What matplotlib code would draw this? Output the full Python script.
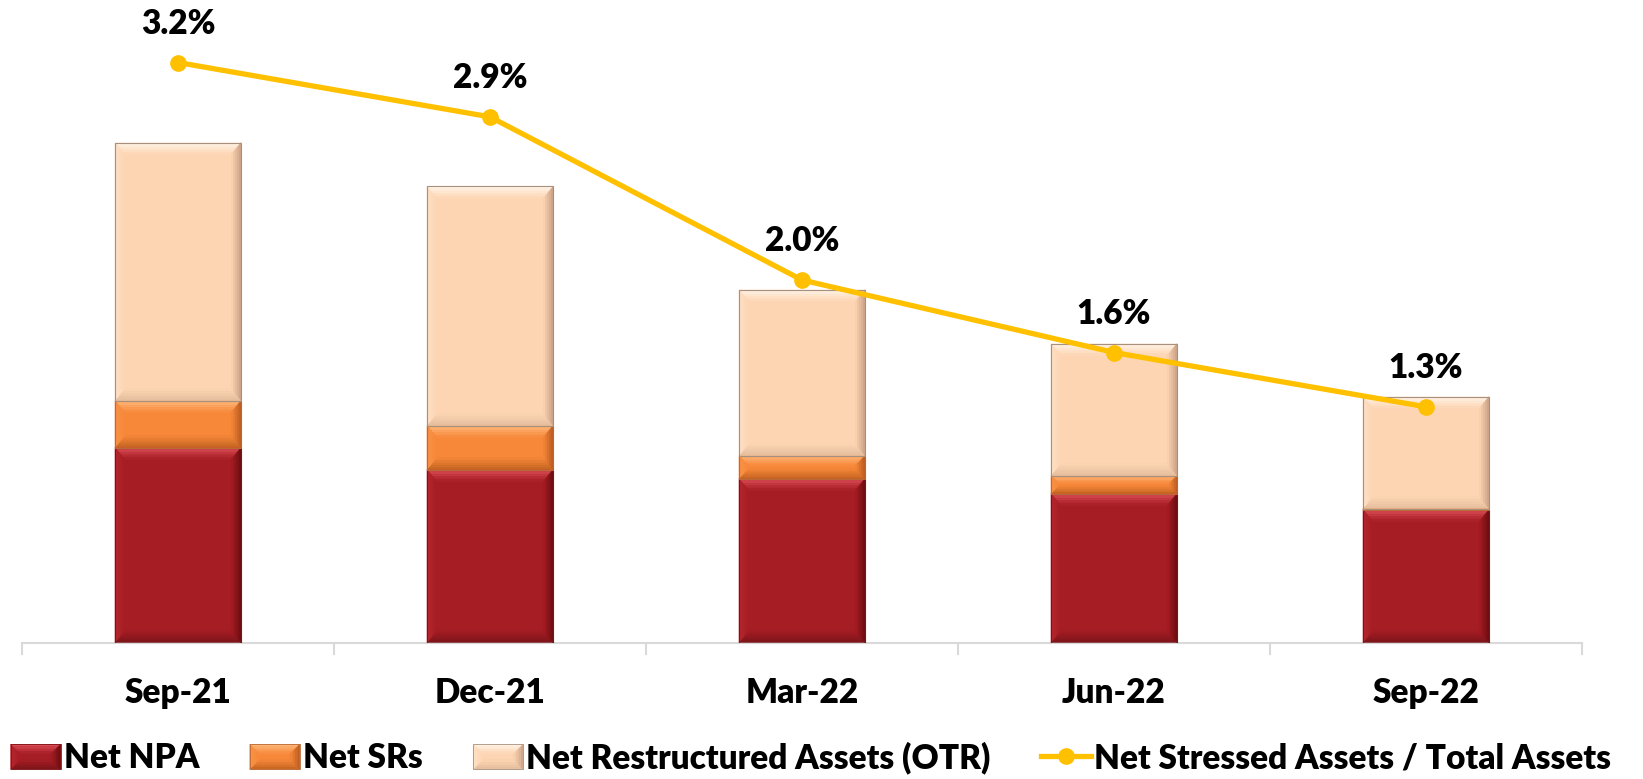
import numpy as np
import matplotlib
matplotlib.use("Agg")
import matplotlib.pyplot as plt
from matplotlib.patches import Polygon, Rectangle
from matplotlib.lines import Line2D
from matplotlib.legend_handler import HandlerBase
from matplotlib.colors import to_rgb

plt.rcParams['font.family'] = ['Lato', 'DejaVu Sans']
plt.rcParams['font.weight'] = 800

# quarterly data
quarters = ["Sep-21", "Dec-21", "Mar-22", "Jun-22", "Sep-22"]
net_npa = [1.95, 1.73, 1.64, 1.49, 1.33]
net_srs = [0.47, 0.44, 0.23, 0.18, 0.01]
net_otr = [2.58, 2.39, 1.66, 1.32, 1.12]
stressed_pct = [3.2, 2.9, 2.0, 1.6, 1.3]

series_names = ["Net NPA", "Net SRs", "Net Restructured Assets (OTR)"]
line_name = "Net Stressed Assets / Total Assets"

# bevel colours per series: face, edges of the bevel, outline
styles = [
    dict(face="#A61D24", top="#E0505A", left="#B8262D", right="#6A0D10",
         bottom="#7A1419", edge="#7A1419"),
    dict(face="#F7883A", top="#FEBC80", left="#F99448", right="#B95A1F",
         bottom="#C2631F", edge="#B86A35"),
    dict(face="#FDD5B3", top="#FFF6EA", left="#FEE1C8", right="#C9A085",
         bottom="#E2BC9C", edge="#A8907F"),
]
line_color = "#FFC000"
FS = 24
WEIGHT = 800


def bevel_patches(x0, y0, w, h, bx, by, style, transform, steps=5):
    main = np.array(to_rgb(style['face']))
    out = []
    for i in range(steps):
        a, b = i / steps, (i + 1) / steps
        mix = (i + 0.5) / steps
        o = (x0 + a * bx, y0 + a * by, x0 + w - a * bx, y0 + h - a * by)
        n = (x0 + b * bx, y0 + b * by, x0 + w - b * bx, y0 + h - b * by)
        sides = {
            'top': [(o[0], o[3]), (o[2], o[3]), (n[2], n[3]), (n[0], n[3])],
            'bottom': [(o[0], o[1]), (o[2], o[1]), (n[2], n[1]), (n[0], n[1])],
            'left': [(o[0], o[1]), (o[0], o[3]), (n[0], n[3]), (n[0], n[1])],
            'right': [(o[2], o[1]), (o[2], o[3]), (n[2], n[3]), (n[2], n[1])],
        }
        for side, pts in sides.items():
            edge = np.array(to_rgb(style[side]))
            col = edge + (main - edge) * mix
            out.append(Polygon(pts, closed=True, facecolor=col, edgecolor=col,
                               lw=0.3, transform=transform))
    return out


class BevelHandler(HandlerBase):
    def __init__(self, style):
        super().__init__()
        self.style = style

    def create_artists(self, legend, orig_handle, xdescent, ydescent,
                       width, height, fontsize, trans):
        x0, y0 = -xdescent, -ydescent
        arts = [Rectangle((x0, y0), width, height, facecolor=self.style['face'],
                          edgecolor='none', transform=trans)]
        arts += bevel_patches(x0, y0, width, height, 7, 7, self.style, trans, steps=4)
        arts.append(Rectangle((x0, y0), width, height, facecolor='none',
                              edgecolor=self.style['edge'], lw=0.6, transform=trans))
        return arts


fig = plt.figure(figsize=(16.43, 7.79), dpi=100)
W, H = 1643, 779
base_px, top_px = 642.5, 20
ax = fig.add_axes([22 / W, (H - base_px) / H, 1560 / W, (base_px - top_px) / H])
ax.set_xlim(-0.5, 4.5)
ax.set_ylim(0, (base_px - top_px) / 100)

x = np.arange(len(quarters))
bar_w = 0.404
bottoms = np.zeros(len(quarters))
sx = 1560 / 5
sy = 100.0
for vals, st in zip([net_npa, net_srs, net_otr], styles):
    vals = np.array(vals)
    ax.bar(x, vals, bar_w, bottom=bottoms, color=st['face'], edgecolor='none', zorder=2)
    for xi, b, v in zip(x, bottoms, vals):
        h_px = v * sy
        by_px = min(12.0, 0.45 * h_px)
        bx_px = min(10.0, max(by_px, 4.0)) if h_px > 3 else 0.5
        for p in bevel_patches(xi - bar_w / 2, b, bar_w, v, bx_px / sx, by_px / sy,
                               st, ax.transData):
            p.set_zorder(3)
            ax.add_patch(p)
        ax.add_patch(Rectangle((xi - bar_w / 2, b), bar_w, v, facecolor='none',
                               edgecolor=st['edge'], lw=0.8, zorder=4))
    bottoms = bottoms + vals

# axis styling
for s in ['top', 'right', 'left']:
    ax.spines[s].set_visible(False)
ax.spines['bottom'].set_color('#D9D9D9')
ax.spines['bottom'].set_linewidth(1.5)
ax.set_yticks([])
ax.set_xticks(x)
ax.set_xticklabels(quarters, fontsize=FS, fontweight=WEIGHT)
ax.tick_params(axis='x', which='major', length=0, pad=25)
ax.set_xticks(np.arange(-0.5, 5, 1), minor=True)
ax.tick_params(axis='x', which='minor', length=8.6, width=1.5, color='#D9D9D9')

# secondary axis for the ratio line
ax2 = ax.twinx()
ax2.set_ylim(0, (base_px - top_px) / 181.25)
ax2.axis('off')
ax2.plot(x, stressed_pct, color=line_color, lw=3.8, marker='o', markersize=11,
         zorder=5, solid_capstyle='round')
for xi, v in zip(x, stressed_pct):
    ax2.annotate(f"{v:.1f}%", (xi, v), xytext=(0, 28), textcoords='offset points',
                 ha='center', va='center', fontsize=FS, fontweight=WEIGHT, color='black')

# legend
handles = [Rectangle((0, 0), 1, 1, facecolor=st['face']) for st in styles]
line_handle = Line2D([], [], color=line_color, lw=3.8, marker='o', markersize=11)
handler_map = {h: BevelHandler(st) for h, st in zip(handles, styles)}
fig.legend(handles + [line_handle], series_names + [line_name], loc='center',
           bbox_to_anchor=(0.4935, 0.027), ncol=4, frameon=False,
           handlelength=1.5, handleheight=0.78, handletextpad=0.09,
           columnspacing=1.52, handler_map=handler_map, borderaxespad=0,
           prop={'weight': WEIGHT, 'size': FS})

fig.savefig("out.png", dpi=100)
